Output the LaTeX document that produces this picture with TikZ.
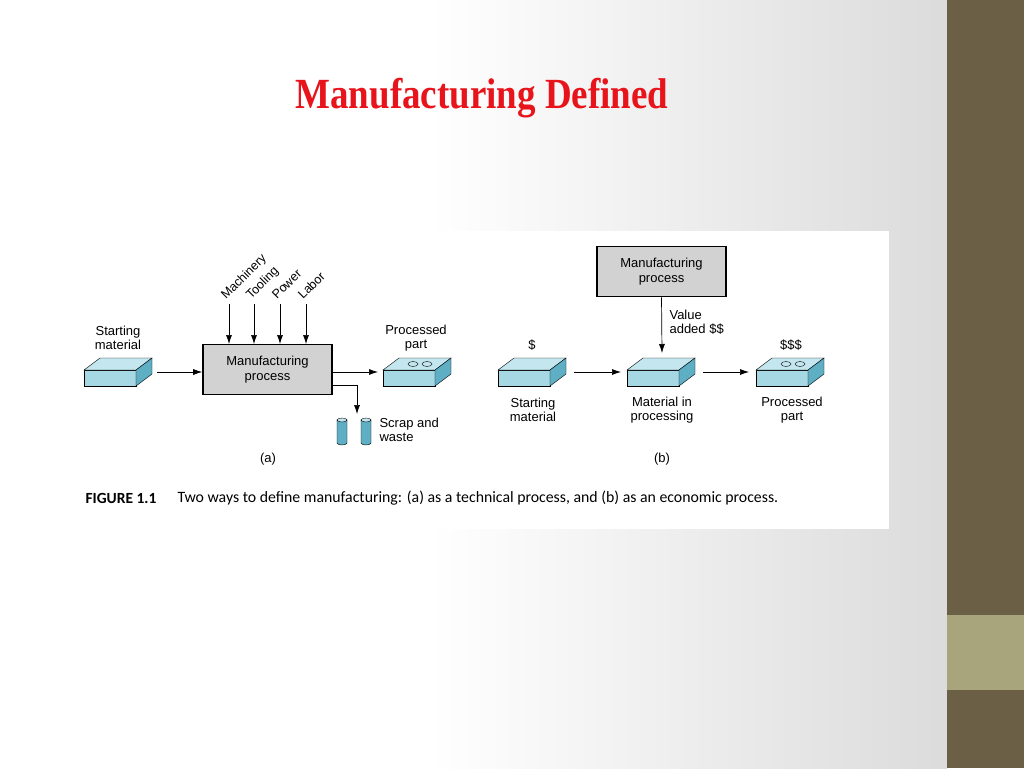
\documentclass[tikz,border=0pt]{standalone}
\usepackage{fontspec}
\setmainfont{Liberation Sans}
\newfontfamily\titlefont[FakeStretch=0.86]{Liberation Serif}
\newfontfamily\capfont{Carlito}
\usetikzlibrary{arrows.meta}
\definecolor{slabtop}{HTML}{C4E6EE}
\definecolor{slabfront}{HTML}{A6D8E4}
\definecolor{slabside}{HTML}{5FAFC4}
\definecolor{barcol}{HTML}{6B5F45}
\definecolor{barlight}{HTML}{A8A47C}
\definecolor{titlered}{HTML}{E8141B}
\tikzset{
  flow/.style={-{Latex[length=9pt,width=6pt]}, line width=0.7pt},
  lbl/.style={align=center, font=\fontsize{13}{14.5}\selectfont},
  proc/.style={lbl, draw, line width=1.6pt, fill=gray!35, minimum width=129pt, minimum height=50pt},
}
% slab: #1 = x of front lower left, #2 = y of front lower left
\newcommand{\slab}[2]{
  \draw[fill=slabfront] (#1,#2) rectangle ++(52,-16);
  \draw[fill=slabtop] (#1,#2-16) -- ++(16,-12) -- ++(52,0) -- ++(-16,12) -- cycle;
  \draw[fill=slabside] (#1+52,#2) -- ++(16,-12) -- ++(0,-16) -- ++(-16,12) -- cycle;
}
\newcommand{\holes}[2]{
  \draw (#1+30,#2-22) ellipse (5pt and 2.5pt);
  \draw (#1+44,#2-22) ellipse (5pt and 2.5pt);
}
\begin{document}
\begin{tikzpicture}[x=1pt, y=-1pt]
		% Background and frame:
		\useasboundingbox (0,0) rectangle (1024,768);
		\fill[white] (0,0) rectangle (1024,768);
		\shade[left color=white, right color=gray!28] (430,0) rectangle (947,768);
		\fill[barcol] (947,0) rectangle (1024,768);
		\fill[barlight] (947,615) rectangle (1024,690);
		\fill[white] (78,231) rectangle (889,529);
		\node[text=titlered, font=\titlefont\bfseries\fontsize{43}{45}\selectfont] (title) at (482,98) {Manufacturing Defined};
		% Part (a):
		\slab{84}{386}
		\node[lbl] (startA) at (118,338) {Starting\\material};
		\node[proc] (procA) at (267.5,369.5) {Manufacturing\\process};
		\foreach \x/\t [count=\i] in {229/Machinery, 254/Tooling, 280/Power, 306/Labor} {
			\coordinate (in\i) at (\x,304);
			\draw[flow] (in\i) -- (\x,344);
			\node[lbl, font=\fontsize{12.5}{14}\selectfont, rotate=45, anchor=base west, inner sep=0pt] (inlbl\i) at (\x-3,300) {\t};
		}
		\coordinate (startAout) at (157,372);
		\draw[flow] (startAout) -- (procA.west |- startAout);
		\slab{383}{386}
		\holes{383}{386}
		\node[lbl] (partA) at (416,338) {Processed\\part};
		\coordinate (partAin) at (378,372);
		\draw[flow] (procA.east |- partAin) -- (partAin);
		\coordinate (scrapin) at (357,414);
		\draw[flow] (procA.east |- 0,385) -| (scrapin);
		\foreach \x in {342,366} {
			\draw[fill=slabside] (\x-5,420) -- (\x-5,443) arc (180:360:5pt and 2pt) -- (\x+5,420);
			\draw[fill=slabtop] (\x,420) ellipse (5pt and 2pt);
		}
		\node[lbl, align=left, anchor=west] (scrap) at (376,430) {Scrap and\\waste};
		\node[lbl] (capA) at (268,459) {(a)};
		% Part (b):
		\node[proc] (procB) at (661.5,271.5) {Manufacturing\\process};
		\slab{498}{386}
		\slab{627}{386}
		\slab{756}{386}
		\holes{756}{386}
		\coordinate (midtop) at (662,353);
		\draw[flow] (procB.south) -- (midtop);
		\node[lbl, align=left, anchor=west] (value) at (666,322) {Value\\added \$\$};
		\node[lbl] (cost1) at (532,345) {\$};
		\node[lbl] (cost3) at (791,345) {\$\$\$};
		\coordinate (a1) at (574,372);
		\coordinate (a2) at (621,372);
		\coordinate (a3) at (703,372);
		\coordinate (a4) at (749,372);
		\draw[flow] (a1) -- (a2);
		\draw[flow] (a3) -- (a4);
		\node[lbl] (startB) at (533,410) {Starting\\material};
		\node[lbl] (midB) at (662,410) {Material in\\processing};
		\node[lbl] (partB) at (792,410) {Processed\\part};
		\node[lbl] (capB) at (662,459) {(b)};
		% Caption:
		\node[anchor=west, font=\capfont\bfseries\fontsize{15.5}{17}\selectfont] (fig) at (82,498) {FIGURE 1.1};
		\node[anchor=west, font=\capfont\fontsize{15.8}{17}\selectfont] (figtext) at (174,498) {Two ways to define manufacturing: (a) as a technical process, and (b) as an economic process.};
	\end{tikzpicture}
\end{document}
